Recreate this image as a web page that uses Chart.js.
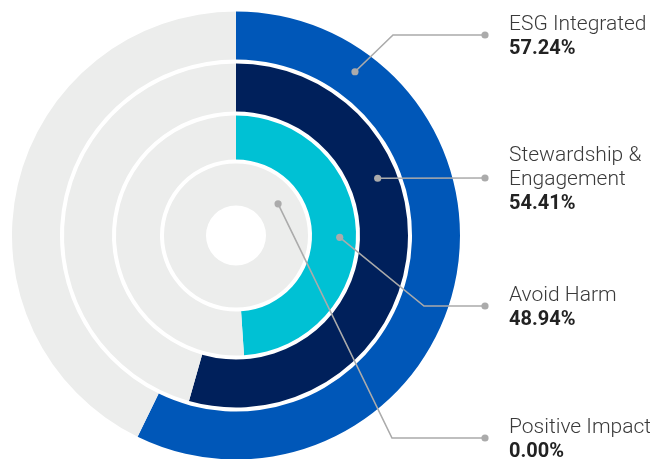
<!DOCTYPE html>
<html>
<head>
<meta charset="utf-8">
<script src="https://cdn.jsdelivr.net/npm/chart.js@4.4.1/dist/chart.umd.min.js"></script>
<style>
  html, body { margin: 0; padding: 0; background: #fff; width: 650px; height: 459px; overflow: hidden; }
  #wrap { position: relative; width: 650px; height: 459px; }
  #c { position: absolute; left: 0; top: 0; }
  .lbl { position: absolute; left: 509px; font-family: Roboto, "Open Sans", sans-serif; font-size: 21px; line-height: 24px;
         color: #3a3a3a; font-weight: 300; white-space: nowrap; }
  .lbl .pct { font-weight: 700; color: #222; font-size: 20px; }
</style>
</head>
<body>
<div id="wrap"><canvas id="c" width="650" height="459"></canvas></div>
<script>
// ---- data ----
const categories = ['ESG Integrated', 'Stewardship & Engagement', 'Avoid Harm', 'Positive Impact'];
const labelLines = [['ESG Integrated'], ['Stewardship &', 'Engagement'], ['Avoid Harm'], ['Positive Impact']];
const values = [57.24, 54.41, 48.94, 0.00];
const total = 100;

// ---- style ----
const ringColors = ['#0057b8', '#00205b', '#00c1d4', '#ecedec'];
const trackColor = '#ecedec';
const ringWeights = [48, 48, 44, 42];
const gapWeight = 4;
const anchorAngles = [36, 68, 91, 53];      // degrees clockwise from top
const anchorRadial = [0.55, 0.6, 0.63, 0.54];
const elbows = [[393, 35], null, [424, 306], [392, 438]];
const endY = [35, 178, 306, 438];
const endX = 485;
const labelTops = [11, 142, 282, 414];

const datasets = [];
const ringIndex = [];
values.forEach((v, i) => {
  if (i > 0) {
    datasets.push({ data: [1], backgroundColor: ['rgba(0,0,0,0)'], weight: gapWeight, borderWidth: 0 });
  }
  ringIndex.push(datasets.length);
  datasets.push({
    label: categories[i],
    data: [v, total - v],
    backgroundColor: [ringColors[i], trackColor],
    weight: ringWeights[i],
    borderWidth: 0
  });
});

const leaderPlugin = {
  id: 'leaders',
  afterDraw(chart) {
    const ctx = chart.ctx;
    ctx.save();
    ctx.strokeStyle = '#ababab';
    ctx.fillStyle = '#ababab';
    ctx.lineWidth = 1.6;
    values.forEach((v, i) => {
      const arc = chart.getDatasetMeta(ringIndex[i]).data[0];
      const p = arc.getProps(['x', 'y', 'innerRadius', 'outerRadius'], true);
      const r = p.innerRadius + (p.outerRadius - p.innerRadius) * anchorRadial[i];
      const a = anchorAngles[i] * Math.PI / 180;
      const sx = p.x + r * Math.sin(a);
      const sy = p.y - r * Math.cos(a);
      ctx.beginPath();
      ctx.moveTo(sx, sy);
      if (elbows[i]) ctx.lineTo(elbows[i][0], elbows[i][1]);
      ctx.lineTo(endX, endY[i]);
      ctx.stroke();
      [[sx, sy], [endX, endY[i]]].forEach(([x, y]) => {
        ctx.beginPath();
        ctx.arc(x, y, 3.6, 0, Math.PI * 2);
        ctx.fill();
      });
    });
    ctx.restore();
  }
};

new Chart(document.getElementById('c'), {
  type: 'doughnut',
  data: { labels: ['value', 'rest'], datasets },
  options: {
    responsive: false,
    animation: false,
    events: [],
    cutout: '13.4%',
    radius: 224,
    layout: { padding: { left: 12, top: 12, right: 190, bottom: 0 } },
    elements: { arc: { borderWidth: 0 } },
    plugins: { legend: { display: false }, tooltip: { enabled: false } }
  },
  plugins: [leaderPlugin]
});

const wrap = document.getElementById('wrap');
labelLines.forEach((lines, i) => {
  const d = document.createElement('div');
  d.className = 'lbl';
  d.style.top = labelTops[i] + 'px';
  lines.forEach(t => {
    const s = document.createElement('div');
    s.textContent = t;
    d.appendChild(s);
  });
  const pc = document.createElement('div');
  pc.className = 'pct';
  pc.textContent = values[i].toFixed(2) + '%';
  d.appendChild(pc);
  wrap.appendChild(d);
});
</script>
</body>
</html>
